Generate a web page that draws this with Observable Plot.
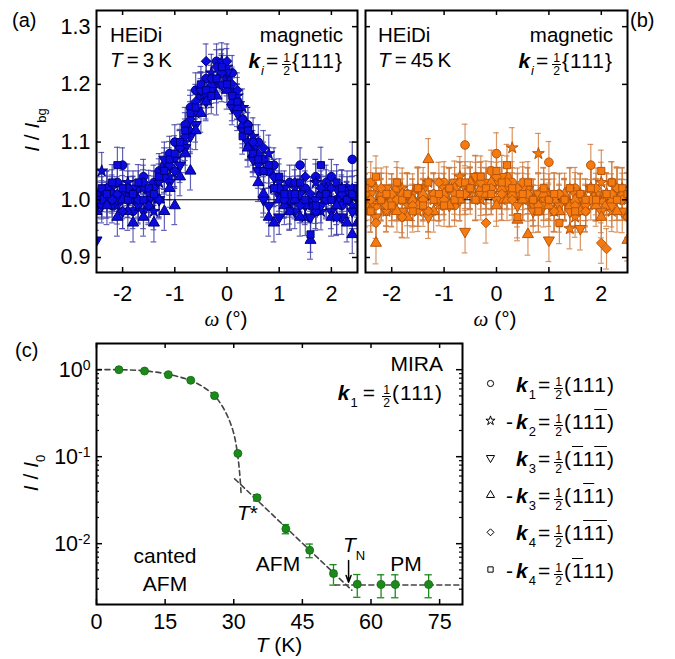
<!DOCTYPE html>
<html><head><meta charset="utf-8">
<script src="https://cdn.jsdelivr.net/npm/d3@7"></script>
<script src="https://cdn.jsdelivr.net/npm/@observablehq/plot@0.6"></script>
<style>
body{margin:0;background:#fff;}
#root{position:relative;width:675px;height:659px;font-family:"Liberation Sans",Arial,Helvetica,sans-serif;color:#000;overflow:hidden;background:#fff}
#root svg{position:absolute;max-width:none;background:none}
.t{position:absolute;line-height:1;white-space:nowrap}
.fr{display:inline-block;vertical-align:-0.58em;font-size:0.58em;line-height:1;text-align:center;margin:0 1px;letter-spacing:0}
.fr>span{display:block;padding:0 1px}
.fr>span:first-child{border-bottom:1px solid #000}
.ol{text-decoration:overline;text-decoration-thickness:1.3px}
.sb{font-size:0.62em;position:relative;top:0.5em;font-style:normal;font-weight:normal;letter-spacing:0}
.eq{margin:0 2px}
.sym{font-family:"Liberation Serif","DejaVu Serif",serif;font-style:italic}
</style></head><body><div id="root"></div>
<script>
// ---------------- data ----------------
const omega = [-2.5,-2.4,-2.3,-2.2,-2.1,-2.0,-1.9,-1.8,-1.7,-1.6,-1.5,-1.4,-1.3,-1.2,-1.1,-1.0,-0.9,-0.8,-0.7,-0.6,-0.5,-0.4,-0.3,-0.2,-0.1,0,0.1,0.2,0.3,0.4,0.5,0.6,0.7,0.8,0.9,1.0,1.1,1.2,1.3,1.4,1.5,1.6,1.7,1.8,1.9,2.0,2.1,2.2,2.3,2.4,2.5];

// panel (a): T = 3 K
const a_k1  = [0.99,1.01,1.02,0.99,1.03,1.06,1.01,0.98,1.02,1.04,1.00,1.03,1.05,1.06,1.08,1.10,1.09,1.13,1.16,1.19,1.18,1.21,1.19,1.24,1.23,1.21,1.22,1.17,1.14,1.13,1.09,1.10,1.07,1.05,1.06,1.01,1.00,1.03,1.00,1.06,1.02,0.99,1.04,1.01,1.03,1.04,1.00,0.99,1.02,1.07,0.98];
const a_mk2 = [1.01,1.05,1.00,1.02,0.99,1.01,1.03,1.00,0.99,1.02,1.01,0.98,1.03,1.05,1.04,1.07,1.09,1.10,1.12,1.15,1.19,1.18,1.22,1.20,1.24,1.23,1.19,1.18,1.16,1.10,1.11,1.06,1.05,1.08,1.02,1.03,1.00,0.99,1.02,1.01,0.97,1.00,1.03,0.98,1.02,1.00,0.97,1.02,1.00,0.99,1.01];
const a_k3  = [0.93,0.99,1.00,1.01,1.00,0.98,1.00,1.02,0.99,0.98,1.00,1.02,1.00,1.07,1.03,1.05,1.06,1.09,1.11,1.13,1.19,1.17,1.19,1.21,1.20,1.22,1.16,1.15,1.12,1.10,1.07,1.05,1.00,0.99,1.04,0.97,1.02,1.00,0.98,1.01,0.99,0.97,1.00,0.99,1.01,0.98,1.02,0.97,1.01,0.98,1.00];
const a_mk3 = [0.98,1.00,0.99,1.01,0.97,1.00,0.98,0.96,1.00,0.97,0.99,0.96,1.00,0.98,1.02,0.99,1.04,1.08,1.05,1.12,1.15,1.17,1.20,1.18,1.22,1.19,1.17,1.16,1.13,1.09,1.08,1.03,1.01,0.97,0.96,1.00,0.99,0.98,1.00,0.97,0.99,0.93,0.98,1.01,1.00,0.97,0.99,1.01,0.96,0.94,0.96];
const a_k4  = [1.01,1.00,1.02,1.00,1.01,0.98,1.02,1.01,1.00,1.03,0.99,1.02,1.00,1.04,1.06,1.05,1.09,1.11,1.14,1.17,1.19,1.24,1.21,1.23,1.22,1.24,1.20,1.19,1.14,1.13,1.10,1.08,1.09,1.05,1.04,1.02,1.00,1.01,1.03,0.99,1.04,1.01,0.98,1.02,1.00,1.02,0.97,1.01,1.00,1.02,0.99];
const a_mk4 = [1.00,1.02,1.01,1.03,1.06,1.02,1.00,1.01,1.03,1.00,1.02,1.01,1.04,1.05,1.07,1.08,1.10,1.12,1.15,1.16,1.20,1.19,1.18,1.21,1.23,1.20,1.18,1.17,1.11,1.12,1.08,1.07,1.05,1.06,1.02,1.04,1.01,0.98,1.01,1.03,1.00,0.94,0.99,1.06,1.01,1.00,1.03,1.02,1.00,1.01,1.02];
const a_err = [0.030,0.032,0.030,0.033,0.030,0.031];

// panel (b): T = 45 K
const b_k1  = [1.00,1.03,0.99,1.01,0.98,1.00,1.02,0.97,1.01,1.00,0.99,1.02,0.98,1.01,1.00,1.03,1.02,0.99,1.03,1.095,1.02,1.04,1.03,1.01,1.05,1.08,1.00,1.04,1.03,1.01,1.00,1.02,0.99,1.01,1.00,1.065,0.98,1.01,1.00,0.99,1.02,1.00,0.98,1.06,1.01,1.00,0.99,1.03,1.02,1.00,0.97];
const b_mk2 = [1.01,0.99,1.02,1.00,0.98,1.01,1.00,1.02,0.99,1.01,0.98,1.00,1.03,1.00,0.99,1.01,1.02,1.00,1.04,1.02,1.01,1.03,1.00,1.02,1.01,1.03,1.00,1.02,1.09,1.01,1.00,1.02,0.99,1.08,1.00,1.01,0.98,0.99,1.00,0.95,0.97,1.01,0.99,1.02,1.00,1.03,1.01,0.98,1.00,1.02,1.00];
const b_k3  = [0.99,1.01,0.97,1.00,1.02,0.99,1.00,0.98,1.01,0.99,1.02,1.00,0.97,1.01,1.00,1.02,0.99,1.03,1.00,0.945,1.02,1.04,1.01,1.03,1.02,1.00,1.04,1.02,1.01,0.99,1.02,1.00,0.98,1.01,0.99,0.93,1.01,0.99,1.00,0.98,1.01,0.95,0.99,1.02,1.00,0.98,1.01,0.99,1.02,0.98,1.01];
const b_mk3 = [1.00,0.98,0.925,1.01,0.99,1.00,0.98,1.01,0.97,1.00,0.99,1.01,1.07,0.98,1.00,1.01,0.99,1.02,1.00,1.01,1.03,1.00,1.02,1.01,1.03,0.99,1.02,1.00,1.01,0.965,1.00,0.94,1.00,0.98,1.01,0.99,1.00,0.98,1.01,0.99,1.00,0.98,1.00,1.02,0.99,0.97,1.01,1.00,0.98,1.01,0.93];
const b_k4  = [1.01,1.00,0.96,1.02,0.99,1.01,1.00,0.97,1.01,0.99,1.02,1.00,0.98,1.01,1.03,1.00,1.02,1.01,1.03,1.01,1.02,1.00,1.03,0.96,1.02,1.04,1.01,1.03,1.00,1.02,1.03,1.01,1.00,0.99,1.02,1.00,0.98,1.01,1.00,1.02,0.99,1.01,0.98,1.00,1.02,0.925,0.915,1.01,1.02,1.00,0.97];
const b_mk4 = [1.02,0.98,1.04,1.00,1.01,0.99,1.03,1.00,1.01,0.98,1.02,0.99,1.03,1.00,1.01,0.99,1.02,1.00,1.01,1.03,1.02,1.00,1.04,1.02,1.01,1.05,1.03,1.06,1.02,0.97,1.01,1.03,1.00,0.98,1.02,1.00,1.01,0.96,1.00,1.02,0.98,1.01,1.00,1.02,1.00,1.05,1.01,1.03,1.00,1.02,1.01];
const b_err = [0.036,0.035,0.037,0.036,0.035,0.036];

const omegaTicks = [-2,-1,0,1,2];
const ratioTicks = [0.9,1.0,1.1,1.2,1.3];

// panel (c): MIRA temperature dependence
const tempK     = [4.9,10.5,15.7,20.6,25.8,30.9,35.1,41.4,46.6,51.8,57.0,62.2,65.3,72.6];
const intensity = [1.0,0.965,0.877,0.755,0.503,0.109,0.0338,0.0148,0.0084,0.00454,0.00342,0.00339,0.00339,0.00339];
const intensityErr = [0,0,0,0,0,0,0.0028,0.0018,0.0015,0.0012,0.0010,0.0010,0.0010,0.0010];
const fitLowT   = [0,5,10,15,20,23,25.8,27.5,28.8,30,30.8,31.3,31.6];
const fitLowI   = [1.0,1.0,0.975,0.9,0.77,0.65,0.5,0.38,0.28,0.185,0.11,0.064,0.038];
const fitMidT   = [30.2,55.8];
const fitMidI   = [0.0557,0.00292];
const fitHighT  = [52.1,80];
const fitHighI  = [0.00335,0.00335];
const tnArrowT  = [55.1];
const tnArrowI  = [0.0064,0.0036];
const tempTicks = [0,15,30,45,60,75];
const logTicks  = [1,0.1,0.01];

const legendLabels = ["k1","-k2","k3","-k3","k4","-k4"];

// ---------------- drawing ----------------
const FONT = '"Liberation Sans", Arial, Helvetica, sans-serif';
const root = document.getElementById("root");

const triDown = {draw(ctx, size){const s3=Math.sqrt(3);const y=-Math.sqrt(size/(s3*3));ctx.moveTo(0,-2*y);ctx.lineTo(-s3*y,y);ctx.lineTo(s3*y,y);ctx.closePath();}};
const symbols = ["circle","star",triDown,"triangle","diamond2","square"];
const symR = [4.3,3.7,4.1,4.1,4.4,4.0];

function place(svg, left, top){svg.style.left=left+"px";svg.style.top=top+"px";root.appendChild(svg);}

function panel(series, errs, col, opt){
  const W=opt.width, H=330, mT=10, mB=58, mL=opt.mL, mR=opt.mR;
  const iw=W-mL-mR, ih=H-mT-mB;
  const rows=[];
  series.forEach((vals,s)=>vals.forEach((v,i)=>rows.push({x:omega[i],y:v,e:errs[s],s})));
  const cw=0.055;
  const marks=[
    Plot.ruleX(rows,{x:"x",y1:d=>d.y-d.e,y2:d=>d.y+d.e,stroke:col.err,strokeOpacity:0.8,strokeWidth:1.2,clip:true}),
    Plot.ruleY(rows,{y:d=>d.y+d.e,x1:d=>d.x-cw,x2:d=>d.x+cw,stroke:col.err,strokeOpacity:0.8,strokeWidth:1.2,clip:true}),
    Plot.ruleY(rows,{y:d=>d.y-d.e,x1:d=>d.x-cw,x2:d=>d.x+cw,stroke:col.err,strokeOpacity:0.8,strokeWidth:1.2,clip:true}),
    Plot.ruleY([1],{stroke:"#000",strokeWidth:1.1}),
    ...symbols.map((sym,s)=>Plot.dot(rows.filter(r=>r.s===s),{x:"x",y:"y",symbol:sym,r:symR[s],fill:col.fill,stroke:col.stroke,strokeWidth:1,clip:true})),
    Plot.tickX(omegaTicks,{x:d=>d,insetTop:ih-5,strokeWidth:1.5}),
    Plot.tickX(omegaTicks,{x:d=>d,insetBottom:ih-5,strokeWidth:1.5}),
    Plot.tickY(ratioTicks,{y:d=>d,insetRight:iw-5,strokeWidth:1.5}),
    Plot.tickY(ratioTicks,{y:d=>d,insetLeft:iw-5,strokeWidth:1.5}),
    Plot.frame({stroke:"#000",strokeWidth:2}),
    Plot.axisX(omegaTicks,{tickSize:0,tickPadding:13,tickFormat:d=>String(d),label:null})
  ];
  if(opt.yAxis) marks.push(Plot.axisY(ratioTicks,{tickSize:0,tickPadding:6,tickFormat:d3.format(".1f"),label:null}));
  const svg=Plot.plot({width:W,height:H,marginTop:mT,marginBottom:mB,marginLeft:mL,marginRight:mR,
    x:{domain:[-2.5,2.5]},y:{domain:[0.874,1.328],axis:opt.yAxis?undefined:null},
    style:{fontFamily:FONT,fontSize:"21.5px",background:"none",overflow:"visible",color:"#000"},marks});
  return svg;
}

place(panel([a_k1,a_mk2,a_k3,a_mk3,a_k4,a_mk4],a_err,{fill:"#0b0be0",stroke:"#00007a",err:"#3a3aa6"},{width:362,mL:96,mR:5,yAxis:true}),0,0);
place(panel([b_k1,b_mk2,b_k3,b_mk3,b_k4,b_mk4],b_err,{fill:"#f57a10",stroke:"#b8560a",err:"#cf7a3c"},{width:335,mL:25,mR:48,yAxis:false}),340,0);

// panel (c)
(function(){
  const W=470,H=329,mT=13,mB=55,mL=96,mR=8;
  const iw=W-mL-mR, ih=H-mT-mB;
  const pts=tempK.map((t,i)=>({t,v:intensity[i],e:intensityErr[i]}));
  const errPts=pts.filter(p=>p.e>0);
  const minor=d3.scaleLog().domain([0.002,2]).ticks().filter(v=>!logTicks.some(m=>Math.abs(m-v)<1e-9));
  const dash={stroke:"#444",strokeWidth:1.6,strokeDasharray:"5,3.5"};
  const gcol="#1b8a1b";
  const svg=Plot.plot({width:W,height:H,marginTop:mT,marginBottom:mB,marginLeft:mL,marginRight:mR,
    x:{domain:[0,80]},y:{type:"log",domain:[0.002,2]},
    style:{fontFamily:FONT,fontSize:"21.5px",background:"none",overflow:"visible",color:"#000"},
    marks:[
      Plot.line(fitLowT.map((t,i)=>({t,v:fitLowI[i]})),{x:"t",y:"v",curve:"catmull-rom",...dash}),
      Plot.line(fitMidT.map((t,i)=>({t,v:fitMidI[i]})),{x:"t",y:"v",...dash}),
      Plot.line(fitHighT.map((t,i)=>({t,v:fitHighI[i]})),{x:"t",y:"v",...dash,clip:true}),
      Plot.ruleX(errPts,{x:"t",y1:d=>d.v-d.e,y2:d=>d.v+d.e,stroke:gcol,strokeWidth:1.3}),
      Plot.ruleY(errPts,{y:d=>d.v+d.e,x1:d=>d.t-0.8,x2:d=>d.t+0.8,stroke:gcol,strokeWidth:1.3}),
      Plot.ruleY(errPts,{y:d=>d.v-d.e,x1:d=>d.t-0.8,x2:d=>d.t+0.8,stroke:gcol,strokeWidth:1.3}),
      Plot.dot(pts,{x:"t",y:"v",r:4,fill:gcol,stroke:"#106a10",strokeWidth:0.8}),
      Plot.arrow(tnArrowT,{x1:d=>d,x2:d=>d,y1:tnArrowI[0],y2:tnArrowI[1],stroke:"#000",strokeWidth:1.5,headLength:9,headAngle:40}),
      Plot.tickX(tempTicks,{x:d=>d,insetTop:ih-5,strokeWidth:1.5}),
      Plot.tickX(tempTicks,{x:d=>d,insetBottom:ih-5,strokeWidth:1.5}),
      Plot.tickY(logTicks,{y:d=>d,insetRight:iw-6,strokeWidth:1.5}),
      Plot.tickY(logTicks,{y:d=>d,insetLeft:iw-6,strokeWidth:1.5}),
      Plot.tickY(minor,{y:d=>d,insetRight:iw-3,strokeWidth:1.2}),
      Plot.tickY(minor,{y:d=>d,insetLeft:iw-3,strokeWidth:1.2}),
      Plot.frame({stroke:"#000",strokeWidth:2}),
      Plot.axisX(tempTicks,{tickSize:0,tickPadding:9,tickFormat:d=>String(d),label:null}),
      Plot.axisY(logTicks,{tickSize:0,tickPadding:6,tickFormat:d=>"10^"+Math.round(Math.log10(d)),label:null})
    ]});
  svg.querySelectorAll('g[aria-label="y-axis tick label"] text').forEach(t=>{
    const [b,e]=t.textContent.split("^");
    t.textContent="";
    const s1=document.createElementNS("http://www.w3.org/2000/svg","tspan");s1.textContent=b;t.appendChild(s1);
    const s2=document.createElementNS("http://www.w3.org/2000/svg","tspan");s2.textContent=e;s2.setAttribute("dy","-0.5em");s2.setAttribute("font-size","0.65em");t.appendChild(s2);
  });
  place(svg,0,330);
})();

// legend symbols
(function(){
  const svg=Plot.plot({width:30,height:230,margin:0,
    x:{domain:[0,1],range:[0,30],axis:null},y:{domain:[0,5],range:[23,209],axis:null},
    style:{background:"none",overflow:"visible"},
    marks:[Plot.dot(legendLabels.map((l,i)=>({i,l})),{x:()=>0.5,y:"i",symbol:d=>symbols[d.i],r:d=>symR[d.i]*0.78,fill:"none",stroke:"#000",strokeWidth:1})],
  });
  place(svg,475,360);
})();

// ---------------- text ----------------
function txt(html,o){
  const d=document.createElement("div");d.className="t";d.style.fontSize=o.size+"px";d.innerHTML=html;
  d.style.top=(o.base-0.8465*o.size)+"px";
  if(o.ls)d.style.letterSpacing=o.ls+"px";
  if(o.left!=null)d.style.left=o.left+"px";
  if(o.right!=null)d.style.right=(675-o.right)+"px";
  if(o.cx!=null){d.style.left=o.cx+"px";d.style.transform="translateX(-50%)";}
  root.appendChild(d);return d;
}
function rot(html,cx,cy,size){
  const d=document.createElement("div");d.className="t";d.style.fontSize=size+"px";d.innerHTML=html;
  d.style.left=cx+"px";d.style.top=cy+"px";d.style.transform="translate(-50%,-50%) rotate(-90deg)";
  root.appendChild(d);return d;
}
const half='<span class="fr"><span>1</span><span>2</span></span>';
const ob=s=>`<span class="ol">${s}</span>`;
const kk=sub=>`<b><i>k</i></b><span class="sb">${sub}</span>`;
const eq='<span class="eq">=</span>';

txt("(a)",{left:12,base:27,size:20});
txt("(b)",{left:630,base:27,size:20});
txt("(c)",{left:15,base:357,size:20});

txt("HEiDi",{left:110,base:42,size:20.5});
txt("<i>T</i>&thinsp;=&thinsp;3&thinsp;K",{left:110,base:67,size:20.5});
txt("magnetic",{right:343,base:42,size:20.5});
txt(`${kk("<i>i</i>")}${eq}${half}{111}`,{right:343,base:68,size:21,ls:1});

txt("HEiDi",{left:378,base:42,size:20.5});
txt("<i>T</i>&thinsp;=&thinsp;45&thinsp;K",{left:378,base:67,size:20.5});
txt("magnetic",{right:613,base:42,size:20.5});
txt(`${kk("<i>i</i>")}${eq}${half}{111}`,{right:613,base:68,size:21,ls:1});

rot('<i>I</i> / <i>I</i><span class="sb">bg</span>',31,130,21);
txt('<span class="sym">ω</span> (°)',{cx:226,base:326,size:21});
txt('<span class="sym">ω</span> (°)',{cx:495,base:326,size:21});

rot('<i>I</i> / <i>I</i><span class="sb">0</span>',30,473,21);
txt('<i>T</i> (K)',{cx:279,base:652,size:21});

txt("MIRA",{right:443,base:371,size:21});
txt(`${kk(1)}&thinsp;=&thinsp;${half}(111)`,{right:443,base:400,size:21,ls:1});
txt("canted",{cx:165,base:563,size:21});
txt("AFM",{cx:165,base:591,size:21});
txt("AFM",{cx:278,base:571,size:21});
txt("PM",{cx:406,base:571,size:21});
txt('<i>T</i><span class="sb" style="top:0.6em">N</span>',{left:343,base:552,size:21});
txt('<i>T</i>*',{left:237,base:520,size:21});

// legend text
const legendHtml=[
  `${kk(1)}${eq}${half}(111)`,
  `${kk(2)}${eq}${half}(11${ob(1)})`,
  `${kk(3)}${eq}${half}(${ob(1)}1${ob(1)})`,
  `${kk(3)}${eq}${half}(1${ob(1)}1)`,
  `${kk(4)}${eq}${half}(1${ob("11")})`,
  `${kk(4)}${eq}${half}(${ob(1)}11)`
];
const rowY=[383,420,457,494,531,569];
legendLabels.forEach((l,i)=>{
  const d=txt(legendHtml[i],{left:516,base:rowY[i]+9,size:21,ls:1});
  if(l.startsWith("-")){
    const m=document.createElement("span");m.textContent="-";m.style.position="absolute";m.style.right="100%";m.style.marginRight="2px";
    d.prepend(m);
  }
});
</script></body></html>
